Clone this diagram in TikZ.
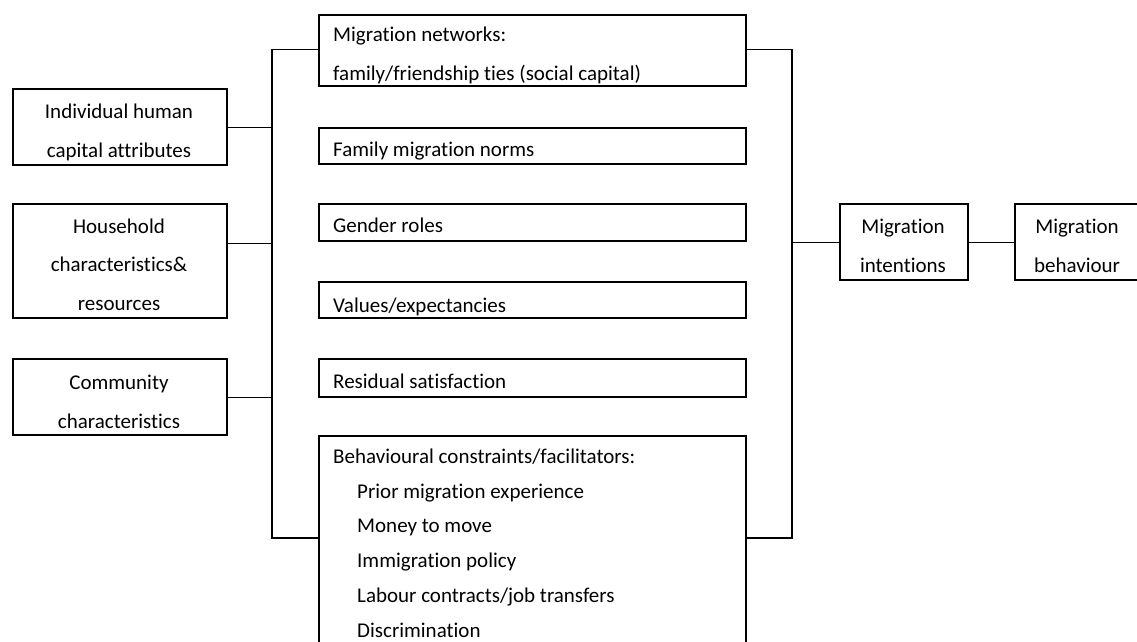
\documentclass[tikz,border=0pt]{standalone}
\usepackage{fontspec}
\setmainfont{Carlito}[Ligatures={TeX,NoCommon}]

\begin{document}
\begin{tikzpicture}[x=1pt,y=-1pt,
    box/.style={draw, line width=2.3pt, inner sep=0pt, anchor=north west},
    wire/.style={line width=1.3pt},
    txt/.style={inner sep=0pt, font=\fontsize{21}{38.5}\selectfont}]
    \useasboundingbox (0,0) rectangle (1137,641);
    \clip (0,0) rectangle (1137,641);

% left column
    \node[box, minimum width=214pt, minimum height=76pt] (indiv) at (12,88) {};
    \node[box, minimum width=214pt, minimum height=114pt] (hhold) at (12,203) {};
    \node[box, minimum width=214pt, minimum height=76pt] (comm) at (12,358) {};
    % multi-line texts: base = last line
    \node[txt, anchor=base, align=center] (indiv text) at (119,157) {Individual human\\capital attributes};
    \node[txt, anchor=base, align=center] (hhold text) at (119,310) {Household\\characteristics\&\\resources};
    \node[txt, anchor=base, align=center] (comm text) at (119,428) {Community\\characteristics};

% middle column
    \node[box, minimum width=427pt, minimum height=71pt] (nets) at (318,14) {};
    \node[box, minimum width=427pt, minimum height=36pt] (norms) at (318,127) {};
    \node[box, minimum width=427pt, minimum height=37pt] (gender) at (318,203) {};
    \node[box, minimum width=427pt, minimum height=36pt] (values) at (318,281) {};
    \node[box, minimum width=427pt, minimum height=38pt] (resid) at (318,358) {};
    \node[box, minimum width=427pt, minimum height=215pt] (constr) at (318,435) {};
    \node[txt, anchor=base west, align=left] (nets text) at (333,80) {Migration networks:\\family/friendship ties (social capital)};
    \node[txt, anchor=base west] (norms text) at (333,156) {Family migration norms};
    \node[txt, anchor=base west] (gender text) at (333,232) {Gender roles};
    \node[txt, anchor=base west] (values text) at (333,312) {Values/expectancies};
    \node[txt, anchor=base west] (resid text) at (333,388) {Residual satisfaction};
    \node[txt, anchor=base west, align=left, font=\fontsize{21}{34.7}\selectfont] (constr text) at (333,637)
        {Behavioural constraints/facilitators:\\
         \hspace*{24pt}Prior migration experience\\
         \hspace*{24pt}Money to move\\
         \hspace*{24pt}Immigration policy\\
         \hspace*{24pt}Labour contracts/job transfers\\
         \hspace*{24pt}Discrimination};

% right column
    \node[box, minimum width=128pt, minimum height=76pt] (intent) at (839,203) {};
    \node[box, minimum width=127pt, minimum height=76pt] (behav) at (1014,203) {};
    \node[txt, anchor=base, align=center] (intent text) at (903,272) {Migration\\intentions};
    \node[txt, anchor=base, align=center] (behav text) at (1077,272) {Migration\\behaviour};

% connectors
    \coordinate (lbus top) at (272,49.5);
    \coordinate (lbus bot) at (272,538);
    \coordinate (rbus top) at (792,49.5);
    \coordinate (rbus bot) at (792,538);
    \coordinate (hhold out) at ([yshift=18pt]hhold.east);

    \draw[wire] (lbus top -| nets.west) -- (lbus top) -- (lbus bot) -- (lbus bot -| constr.west);
    \draw[wire] (indiv.east) -- (indiv.east -| lbus top);
    \draw[wire] (hhold out) -- (hhold out -| lbus top);
    \draw[wire] (comm.east) -- (comm.east -| lbus top);

    \draw[wire] (rbus top -| nets.east) -- (rbus top) -- (rbus bot) -- (rbus bot -| constr.east);
    \draw[wire] (intent.west -| rbus top) -- (intent.west);
    \draw[wire] (intent.east) -- (behav.west);

\end{tikzpicture}
\end{document}
